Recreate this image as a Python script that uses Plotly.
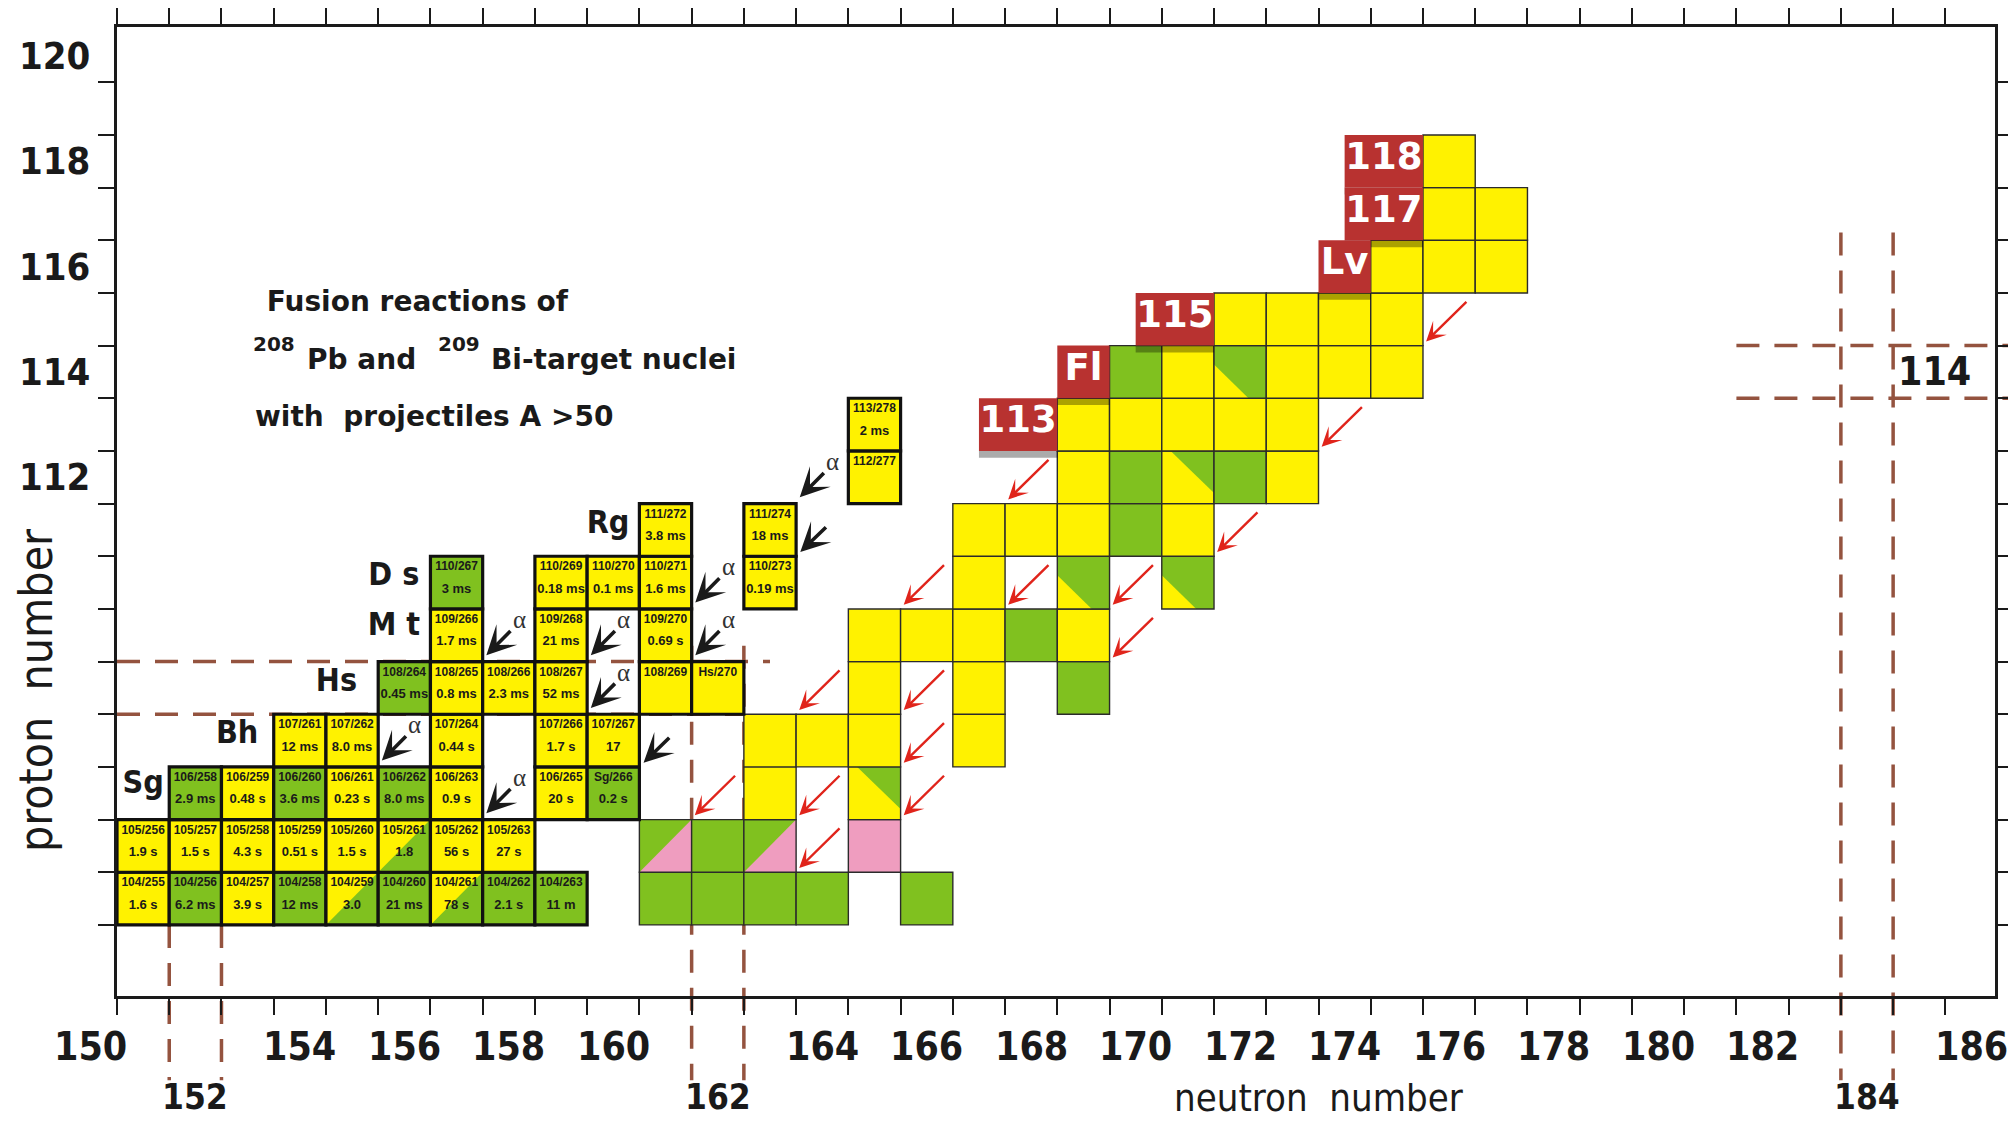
import plotly.graph_objects as go

# Axis extents: neutron number N (x) and proton number Z (y); one cell per nucleus
X_RANGE = [150.5, 186.45]
Y_RANGE = [102.15, 120.55]

YELLOW = "#FFF200"
GREEN = "#80C11F"
PINK = "#EF9DBF"
RED_BOX = "#B83230"
GUIDE = "#94533F"
INK = "#1A1A1A"

NARROW = "Liberation Sans Narrow, Arial Narrow, DejaVu Sans Condensed, sans-serif"
BOLD_WIDE = "DejaVu Sans, Verdana, sans-serif"

# ---- nuclei produced with 208Pb / 209Bi targets (labelled cells) ----
# Y = alpha decay (yellow), G = spontaneous fission (green), D = both (split cell)
cold_Z = [104] * 9 + [105] * 8 + [106] * 8 + [107] * 5 + [108] * 6 + [109] * 3 + [110] * 5 + [111] * 2 + [112, 113]
cold_A = [255, 256, 257, 258, 259, 260, 261, 262, 263,
          256, 257, 258, 259, 260, 261, 262, 263,
          258, 259, 260, 261, 262, 263, 265, 266,
          261, 262, 264, 266, 267,
          264, 265, 266, 267, 269, 270,
          266, 268, 270,
          267, 269, 270, 271, 273,
          272, 274,
          277, 278]
cold_T = ["1.6 s", "6.2 ms", "3.9 s", "12 ms", "3.0", "21 ms", "78 s", "2.1 s", "11 m",
          "1.9 s", "1.5 s", "4.3 s", "0.51 s", "1.5 s", "1.8", "56 s", "27 s",
          "2.9 ms", "0.48 s", "3.6 ms", "0.23 s", "8.0 ms", "0.9 s", "20 s", "0.2 s",
          "12 ms", "8.0 ms", "0.44 s", "1.7 s", "17",
          "0.45 ms", "0.8 ms", "2.3 ms", "52 ms", "", "",
          "1.7 ms", "21 ms", "0.69 s",
          "3 ms", "0.18 ms", "0.1 ms", "1.6 ms", "0.19 ms",
          "3.8 ms", "18 ms",
          "", "2 ms"]
cold_kind = list("YGYGDGDGG" "YYYYYDYY" "GYGYGYYG" "YYYYY" "GYYYYY" "YYY" "GYYYY" "YY" "YY")
cold_symbol = {(106, 266): "Sg", (108, 270): "Hs"}

# ---- nuclei produced in 48Ca-induced reactions (unlabelled cells) ----
# '.' = empty, Y/G/P = alpha/SF/EC, a = SF+EC, b = alpha with SF branch, c = SF with alpha branch
hot_Z = [104, 105, 106, 107, 108, 109, 110, 111, 112, 113, 114, 115, 116, 117, 118]
hot_N0 = [161, 161, 163, 163, 165, 165, 167, 167, 169, 169, 170, 172, 175, 176, 176]
hot_row = ["GGGG.G", "aGa.P", "Y.b", "YYY.Y", "Y.Y.G", "YYYGY", "Y.c.c", "YYYGY",
           "YGbGY", "YYYYY", "GYcYYY", "YYYY", "YYY", "YY", "Y"]

# element name boxes for the new elements
elem_name = ["113", "Fl", "115", "Lv", "117", "118"]
elem_Z = [113, 114, 115, 116, 117, 118]
elem_N0 = [167.0, 168.5, 170.0, 173.5, 174.0, 174.0]
elem_N1 = [168.5, 169.5, 171.5, 174.5, 175.5, 175.5]

# element symbols beside the labelled chains
sym_name = ["Sg", "Bh", "Hs", "M t", "D s", "Rg"]
sym_N = [151.0, 152.8, 154.7, 155.8, 155.8, 159.9]
sym_Z = [106.15, 107.1, 108.1, 109.15, 110.1, 111.1]

# decay arrows (cell in which the arrow is drawn)
alpha_N = [156, 158, 158, 160, 160, 162, 162, 164]
alpha_Z = [107, 106, 109, 109, 108, 109, 110, 112]
plain_N = [161, 164]
plain_Z = [107, 111]
red_N = [162, 164, 164, 164, 166, 166, 166, 166, 168, 168, 170, 170, 172, 174, 176]
red_Z = [106, 108, 106, 105, 108, 107, 106, 110, 112, 110, 110, 109, 111, 113, 115]

# axis labelling
x_labels_upper = [150, 154, 156, 158, 160, 164, 166, 168, 170, 172, 174, 176, 178, 180, 182, 186]
x_labels_magic = [152, 162, 184]
y_labels = [112, 114, 116, 118, 120]
z_magic_label = 114

# reaction description: (text, N of left edge, Z of centre, font size)
desc_parts = [
    (" Fusion reactions of", 153.15, 115.33, 28),
    ("208", 153.07, 114.54, 20),
    ("Pb and", 154.1, 114.24, 28),
    ("209", 156.6, 114.54, 20),
    ("Bi-target nuclei", 157.62, 114.24, 28),
    ("with  projectiles A >50", 153.1, 113.15, 28),
]


def zp(z):
    """proton number -> paper y"""
    return (z - Y_RANGE[0]) / (Y_RANGE[1] - Y_RANGE[0])


def np_(n):
    """neutron number -> paper x"""
    return (n - X_RANGE[0]) / (X_RANGE[1] - X_RANGE[0])


shapes = []
dash = dict(color=GUIDE, width=3.5, dash="23px,15px")

# shell-closure guide lines
shapes.append(dict(type="line", xref="x", yref="y", x0=150.5, x1=163.0, y0=108.5, y1=108.5, line=dash, layer="below"))
shapes.append(dict(type="line", xref="x", yref="y", x0=150.5, x1=162.5, y0=107.5, y1=107.5, line=dash, layer="below"))
for n, ztop in [(151.5, 103.5), (152.5, 103.5), (161.5, 108.8), (162.5, 108.8), (183.5, 116.65), (184.5, 116.65)]:
    shapes.append(dict(type="line", xref="x", yref="paper", x0=n, x1=n, y0=zp(ztop), y1=-0.087, line=dash, layer="below"))
for z in (113.5, 114.5):
    shapes.append(dict(type="line", xref="paper", yref="y", x0=np_(181.5), x1=1.02, y0=z, y1=z, line=dash, layer="below"))

FILL = {"Y": YELLOW, "G": GREEN, "P": PINK, "D": YELLOW, "a": PINK, "b": YELLOW, "c": GREEN}


def cell(n, z, kind, lw, lc):
    x0, x1, y0, y1 = n - 0.5, n + 0.5, z - 0.5, z + 0.5
    shapes.append(dict(type="rect", xref="x", yref="y", x0=x0, x1=x1, y0=y0, y1=y1,
                       fillcolor=FILL[kind], line=dict(width=0), layer="below"))
    tri = None
    if kind == "D":
        tri, col = [(x0, y0), (x1, y0), (x1, y1)], GREEN
    elif kind == "a":
        tri, col = [(x0, y0), (x0, y1), (x1, y1)], GREEN
    elif kind == "b":
        tri, col = [(x0 + 0.17, y1), (x1, y1), (x1, y0 + 0.2)], GREEN
    elif kind == "c":
        tri, col = [(x0, y0 + 0.64), (x0, y0), (x0 + 0.66, y0)], YELLOW
    if tri:
        path = "M " + " L ".join(f"{px},{py}" for px, py in tri) + " Z"
        shapes.append(dict(type="path", xref="x", yref="y", path=path, fillcolor=col,
                           line=dict(width=0), layer="below"))
    shapes.append(dict(type="rect", xref="x", yref="y", x0=x0, x1=x1, y0=y0, y1=y1,
                       fillcolor="rgba(0,0,0,0)", line=dict(color=lc, width=lw), layer="below"))


for z, n0, row in zip(hot_Z, hot_N0, hot_row):
    for i, k in enumerate(row):
        if k != ".":
            cell(n0 + i, z, k, 1.4, "#2B2B2B")

for z, a, k in zip(cold_Z, cold_A, cold_kind):
    cell(a - z, z, k, 3.2, "#111111")

# element boxes with a soft drop shadow
for n0, n1, z in zip(elem_N0, elem_N1, elem_Z):
    shapes.append(dict(type="rect", xref="x", yref="y", x0=n0, x1=n1, y0=z - 0.5 - 0.13, y1=z - 0.5,
                       fillcolor="rgba(0,0,0,0.33)", line=dict(width=0), layer="below"))
for n0, n1, z in zip(elem_N0, elem_N1, elem_Z):
    shapes.append(dict(type="rect", xref="x", yref="y", x0=n0, x1=n1, y0=z - 0.5, y1=z + 0.5,
                       fillcolor=RED_BOX, line=dict(width=0), layer="below"))

fig = go.Figure()

# cell captions
tags = [cold_symbol.get((z, a), str(z)) + f"/{a}" for z, a in zip(cold_Z, cold_A)]
fig.add_trace(go.Scatter(
    x=[a - z for z, a in zip(cold_Z, cold_A)], y=[z + 0.29 for z in cold_Z], text=tags,
    mode="text", cliponaxis=False, hoverinfo="skip", showlegend=False,
    textfont=dict(family="Liberation Sans, Arial, sans-serif", size=12, color=INK, weight="bold")))
hl = [(a - z, z - 0.13, t) for z, a, t in zip(cold_Z, cold_A, cold_T) if t]
fig.add_trace(go.Scatter(
    x=[h[0] for h in hl], y=[h[1] for h in hl], text=[h[2] for h in hl],
    mode="text", cliponaxis=False, hoverinfo="skip", showlegend=False,
    textfont=dict(family="Liberation Sans, Arial, sans-serif", size=13, color=INK, weight="bold")))

# names in the element boxes
fig.add_trace(go.Scatter(
    x=[(a + b) / 2 for a, b in zip(elem_N0, elem_N1)], y=[z + 0.03 for z in elem_Z], text=elem_name,
    mode="text", cliponaxis=False, hoverinfo="skip", showlegend=False,
    textfont=dict(family=BOLD_WIDE, size=37, color="white", weight="bold")))

# element symbols of the labelled chains
fig.add_trace(go.Scatter(
    x=sym_N, y=sym_Z, text=sym_name, mode="text", cliponaxis=False, hoverinfo="skip", showlegend=False,
    textfont=dict(family=NARROW, size=32, color=INK, weight="bold")))

ann = []
for n, z in zip(red_N, red_Z):
    ann.append(dict(x=n - 0.44, y=z - 0.42, ax=n + 0.36, ay=z + 0.36, xref="x", yref="y", axref="x", ayref="y",
                    text="", showarrow=True, arrowhead=3, arrowsize=1.35, arrowwidth=2.4,
                    arrowcolor="#E0241B", standoff=0))
for n, z in zip(alpha_N, alpha_Z):
    ann.append(dict(x=n - 0.43, y=z - 0.38, ax=n + 0.06, ay=z + 0.11, xref="x", yref="y", axref="x", ayref="y",
                    text="", showarrow=True, arrowhead=3, arrowsize=1.35, arrowwidth=3.6,
                    arrowcolor=INK, standoff=0))
    ann.append(dict(x=n + 0.2, y=z + 0.3, xref="x", yref="y", text="α", showarrow=False,
                    font=dict(family="Liberation Serif, DejaVu Serif, serif", size=25, color="#333333")))
for n, z in zip(plain_N, plain_Z):
    ann.append(dict(x=n - 0.42, y=z - 0.42, ax=n + 0.1, ay=z + 0.08, xref="x", yref="y", axref="x", ayref="y",
                    text="", showarrow=True, arrowhead=3, arrowsize=1.35, arrowwidth=3.6,
                    arrowcolor=INK, standoff=0))

# reaction description
for text, n, z, size in desc_parts:
    ann.append(dict(x=n, y=z, xref="x", yref="y", xanchor="left", yanchor="middle", showarrow=False,
                    text=text, font=dict(family=BOLD_WIDE, size=size, color=INK, weight="bold")))

# tick labels
tick_font = dict(family=NARROW, size=39, color=INK, weight="bold")
for v in x_labels_upper:
    ann.append(dict(x=np_(v), y=-0.0516, xref="paper", yref="paper", xanchor="center", yanchor="middle",
                    text=str(v), showarrow=False, font=tick_font))
for v in x_labels_magic:
    ann.append(dict(x=np_(v), y=-0.104, xref="paper", yref="paper", xanchor="center", yanchor="middle",
                    text=str(v), showarrow=False, font=dict(family=NARROW, size=35, color=INK, weight="bold")))
for v in y_labels:
    ann.append(dict(x=-0.0335, y=zp(v), xref="paper", yref="paper", xanchor="center", yanchor="middle",
                    text=str(v), showarrow=False, font=dict(family=NARROW, size=38, color=INK, weight="bold")))
ann.append(dict(x=185.3, y=z_magic_label, xref="x", yref="y", xanchor="center", yanchor="middle",
                text=str(z_magic_label), showarrow=False, font=tick_font))

# axis titles
ann.append(dict(x=np_(173.5), y=-0.105, xref="paper", yref="paper", xanchor="center", yanchor="middle",
                text="neutron\u00a0\u00a0number", showarrow=False, font=dict(family=NARROW, size=38, color=INK)))
ann.append(dict(x=-0.043, y=0.316, xref="paper", yref="paper", xanchor="center", yanchor="middle",
                text="proton\u00a0\u00a0number", showarrow=False, textangle=-90,
                font=dict(family=NARROW, size=46, color=INK)))

axis_common = dict(showline=True, linecolor=INK, linewidth=2.5, mirror="ticks", ticks="outside",
                   ticklen=16, tickwidth=2, tickcolor=INK, showticklabels=False, showgrid=False,
                   zeroline=False, automargin=False)

fig.update_layout(
    width=2008, height=1123,
    margin=dict(l=117, r=13, t=27, b=127, autoexpand=False),
    paper_bgcolor="white", plot_bgcolor="white",
    shapes=shapes, annotations=ann,
    xaxis=dict(range=X_RANGE, tickvals=[150.5 + i for i in range(37)], **axis_common),
    yaxis=dict(range=Y_RANGE, tickvals=[103.5 + i for i in range(17)], **axis_common),
)

fig.write_html("out.html")
